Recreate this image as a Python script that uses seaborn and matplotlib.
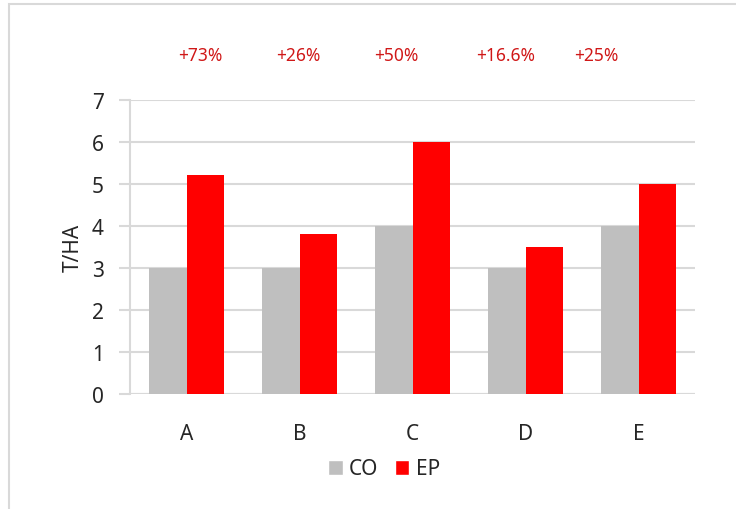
import pandas as pd
import matplotlib
matplotlib.use("Agg")
import matplotlib.pyplot as plt
from matplotlib.patches import Rectangle, Patch
import seaborn as sns

categories = ["A", "B", "C", "D", "E"]
co_values = [3, 3, 4, 3, 4]
ep_values = [5.2, 3.8, 6, 3.5, 5]
gain_labels = ["+73%", "+26%", "+50%", "+16.6%", "+25%"]

df = pd.DataFrame({
    "cat": categories * 2,
    "serie": ["CO"] * len(categories) + ["EP"] * len(categories),
    "val": co_values + ep_values,
})

sns.set_style("white")
plt.rcParams["font.family"] = ["Noto Sans", "DejaVu Sans"]

fig = plt.figure(figsize=(7.36, 5.10), dpi=100)
ax = fig.add_axes([130 / 736, 1 - 395 / 510, 565 / 736, 294.3 / 510])

palette = {"CO": "#BFBFBF", "EP": "#FF0000"}
sns.barplot(data=df, x="cat", y="val", hue="serie", palette=palette,
            width=0.66, gap=0, saturation=1, linewidth=0, ax=ax,
            legend=False, zorder=3)

ax.set_ylim(0, 7)
ax.set_xlim(-0.5, 4.5)
ax.set_yticks(range(0, 8))
ax.yaxis.grid(True, color="#D9D9D9", linewidth=1.5, zorder=0)
ax.set_axisbelow(True)
for s in ["top", "right", "bottom"]:
    ax.spines[s].set_visible(False)
ax.spines["left"].set_color("#D9D9D9")
ax.spines["left"].set_linewidth(1.5)
ax.axhline(0, color="#D9D9D9", linewidth=1.5, zorder=1)
ax.tick_params(axis="y", length=8, width=1.5, color="#D9D9D9", labelsize=15,
               pad=11, left=True)
ax.tick_params(axis="x", length=0, labelsize=15, pad=21)
ax.set_xlabel("")
ax.set_ylabel("T/HA", fontsize=15, labelpad=6)

# increase labels above the groups
label_x = [200, 298, 396, 506, 596]
for lx, txt in zip(label_x, gain_labels):
    fig.text(lx / 736, 1 - 56 / 510, txt, color="#D01818", fontsize=12.5,
             ha="center", va="center")

handles = [Patch(facecolor=palette["CO"], label="CO"),
           Patch(facecolor=palette["EP"], label="EP")]
fig.legend(handles=handles, loc="center", bbox_to_anchor=(384 / 736, 1 - 470 / 510),
           ncol=2, frameon=False, fontsize=15, handlelength=0.7, handleheight=0.7,
           handletextpad=0.3, columnspacing=0.8)

# chart area border
fig.patches.append(Rectangle((9 / 736, -0.2), 1.2, 1.2 - 5 / 510,
                             transform=fig.transFigure, fill=False,
                             edgecolor="#D9D9D9", linewidth=1.5))

fig.savefig("out.png", dpi=100)
